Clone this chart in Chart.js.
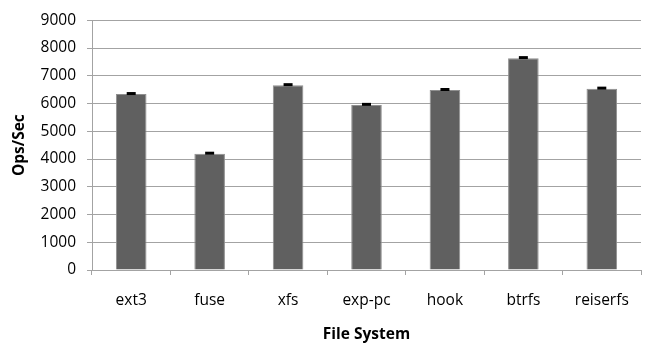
<!DOCTYPE html>
<html>
<head>
<meta charset="utf-8">
<script src="https://cdn.jsdelivr.net/npm/chart.js@4/dist/chart.umd.min.js"></script>
<style>
  html, body { margin: 0; padding: 0; background: #fff; }
  #wrap { width: 645px; height: 346px; position: relative; }
</style>
</head>
<body>
<div id="wrap"><canvas id="c"></canvas></div>
<script>
// File systems benchmarked and their throughput (operations per second)
const fileSystems = ['ext3', 'fuse', 'xfs', 'exp-pc', 'hook', 'btrfs', 'reiserfs'];
const opsPerSec = [6340, 4190, 6660, 5950, 6485, 7635, 6535];
// Upper error margin for each measurement
const opsError = [20, 20, 20, 20, 20, 20, 20];
const yTicks = [0, 1000, 2000, 3000, 4000, 5000, 6000, 7000, 8000, 9000];

const FONT = '"Open Sans", "Liberation Sans", sans-serif';
const GRID = '#a3a3a3';
const TEXT = '#000';

// Draws a black cap above each bar at value + error
const errorBars = {
  id: 'errorBars',
  afterDatasetsDraw(chart) {
    const ctx = chart.ctx;
    const meta = chart.getDatasetMeta(0);
    const y = chart.scales.y;
    ctx.save();
    ctx.strokeStyle = '#000';
    meta.data.forEach((bar, i) => {
      const v = opsPerSec[i];
      const top = y.getPixelForValue(v + opsError[i]);
      const base = y.getPixelForValue(v);
      ctx.lineWidth = 1;
      ctx.beginPath();
      ctx.moveTo(bar.x, base);
      ctx.lineTo(bar.x, top);
      ctx.stroke();
      ctx.lineWidth = 3;
      ctx.beginPath();
      ctx.moveTo(bar.x - 4.5, top);
      ctx.lineTo(bar.x + 4.5, top);
      ctx.stroke();
    });
    ctx.restore();
  }
};

new Chart(document.getElementById('c'), {
  type: 'bar',
  data: {
    labels: fileSystems,
    datasets: [{
      data: opsPerSec,
      backgroundColor: '#606060',
      borderColor: '#8f8f8f',
      borderWidth: 1,
      barPercentage: 0.39,
      categoryPercentage: 1.0
    }]
  },
  options: {
    responsive: true,
    maintainAspectRatio: false,
    animation: false,
    events: [],
    layout: { padding: { top: 12, right: 3, left: 0, bottom: 0 } },
    plugins: {
      legend: { display: false },
      tooltip: { enabled: false }
    },
    scales: {
      x: {
        afterFit(scale) { scale.height = 76; },
        grid: {
          offset: true,
          drawOnChartArea: false,
          drawTicks: true,
          tickLength: 5,
          color: GRID
        },
        border: { color: GRID, width: 1 },
        ticks: {
          padding: 16,
          color: TEXT,
          font: { family: FONT, size: 15.5 }
        },
        title: {
          display: true,
          text: 'File System',
          color: TEXT,
          padding: { top: 0, bottom: 2 },
          font: { family: FONT, size: 15.5, weight: 'bold' }
        }
      },
      y: {
        min: 0,
        max: 9000,
        afterFit(scale) { scale.width = 92; },
        afterBuildTicks(scale) { scale.ticks = yTicks.map(v => ({ value: v })); },
        grid: {
          color: GRID,
          drawTicks: true,
          tickLength: 5
        },
        border: { color: GRID, width: 1 },
        ticks: {
          padding: 11,
          color: TEXT,
          font: { family: FONT, size: 15.5 },
          callback: v => String(v)
        },
        title: {
          display: true,
          text: 'Ops/Sec',
          color: TEXT,
          padding: { top: 10, bottom: 0 },
          font: { family: FONT, size: 15.5, weight: 'bold' }
        }
      }
    }
  },
  plugins: [errorBars]
});
</script>
</body>
</html>
